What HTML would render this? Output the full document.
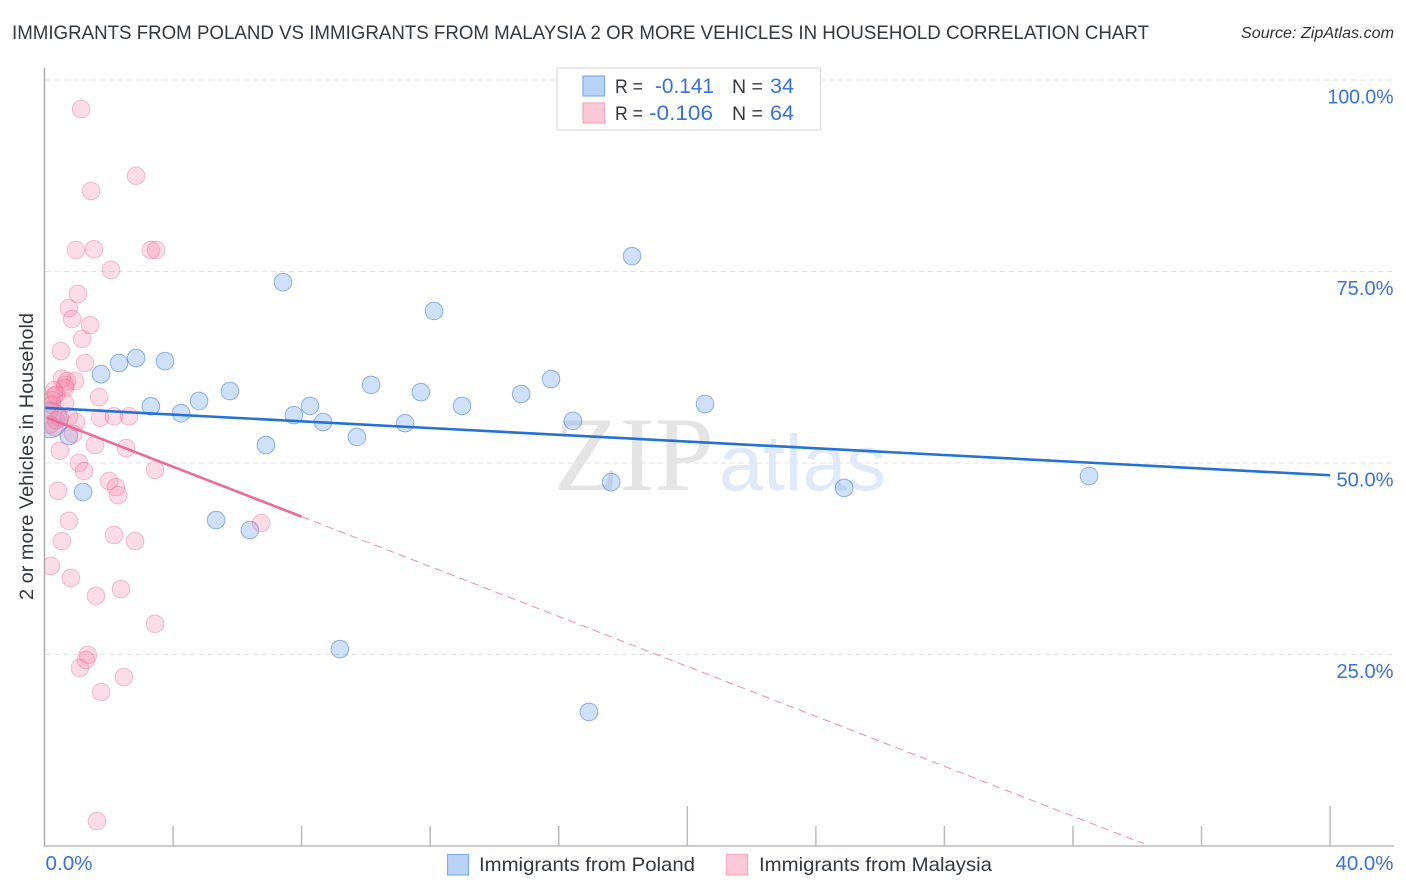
<!DOCTYPE html>
<html lang="en">
<head>
<meta charset="utf-8">
<title>Immigrants from Poland vs Immigrants from Malaysia correlation chart</title>
<style>
html,body{margin:0;padding:0;background:#fff;}
svg{display:block;font-family:"Liberation Sans",sans-serif;}
</style>
</head>
<body>
<svg id="chart" width="1406" height="892" viewBox="0 0 1406 892" xmlns="http://www.w3.org/2000/svg">
  <defs>
    <clipPath id="plot-clip"><rect x="45" y="60" width="1350" height="786"/></clipPath>
  </defs>
  <rect x="0" y="0" width="1406" height="892" fill="#fff"/>
  <text x="12" y="39" font-size="19.5" fill="#33373e" textLength="1137" lengthAdjust="spacingAndGlyphs">IMMIGRANTS FROM POLAND VS IMMIGRANTS FROM MALAYSIA 2 OR MORE VEHICLES IN HOUSEHOLD CORRELATION CHART</text>
  <text x="1241" y="38" font-size="15.5" font-style="italic" fill="#333" textLength="153" lengthAdjust="spacingAndGlyphs">Source: ZipAtlas.com</text>

  <g id="grid"></g>

  <g>
    <text x="554" y="490" font-family="'Liberation Serif',serif" font-size="106" fill="#e4e4e4" textLength="160" lengthAdjust="spacingAndGlyphs">ZIP</text>
    <text x="719" y="490" font-size="79" fill="#dfe9f8" textLength="167" lengthAdjust="spacingAndGlyphs">atlas</text>
  </g>

  <g id="points" clip-path="url(#plot-clip)"></g>
  <g id="trends"></g>

  <g id="axes">
    <line x1="44.5" y1="68" x2="44.5" y2="846.5" stroke="#aaa" stroke-width="1.5"/>
    <line x1="44" y1="846" x2="1394" y2="846" stroke="#bbb" stroke-width="1.5"/>
  </g>
  <g id="ticks"></g>
  <g id="y-labels"></g>
  <g id="x-labels"></g>

  <text transform="translate(33,456.5) rotate(-90)" text-anchor="middle" font-size="19" fill="#33373e" textLength="287" lengthAdjust="spacingAndGlyphs">2 or more Vehicles in Household</text>

  <g>
    <rect x="557" y="68" width="263.5" height="62" fill="#fff" stroke="#ddd" stroke-width="1.2"/>
    <rect x="583" y="76" width="21.5" height="20" fill="#b9d3f7" stroke="#7fade9" stroke-width="1.2"/>
    <rect x="583" y="103" width="21.5" height="20" fill="#fcc9d9" stroke="#f3a9c1" stroke-width="1.2"/>
    <text x="615" y="93" font-size="19.5" fill="#33373e" textLength="28" lengthAdjust="spacingAndGlyphs">R =</text>
    <text x="655" y="93" font-size="21" fill="#3b72d6" textLength="59" lengthAdjust="spacingAndGlyphs">-0.141</text>
    <text x="732" y="93" font-size="19.5" fill="#33373e">N =</text>
    <text x="770" y="93" font-size="21" fill="#3b72d6" textLength="24" lengthAdjust="spacingAndGlyphs">34</text>
    <text x="615" y="120" font-size="19.5" fill="#33373e" textLength="28" lengthAdjust="spacingAndGlyphs">R =</text>
    <text x="649" y="120" font-size="21" fill="#3b72d6" textLength="64" lengthAdjust="spacingAndGlyphs">-0.106</text>
    <text x="732" y="120" font-size="19.5" fill="#33373e">N =</text>
    <text x="770" y="120" font-size="21" fill="#3b72d6" textLength="24" lengthAdjust="spacingAndGlyphs">64</text>
  </g>

  <g>
    <rect x="447.5" y="854.5" width="21" height="20.5" fill="#b9d3f7" stroke="#7fade9" stroke-width="1.2"/>
    <text x="479" y="871" font-size="19.5" fill="#33373e" textLength="216" lengthAdjust="spacingAndGlyphs">Immigrants from Poland</text>
    <rect x="726.5" y="854.5" width="21" height="20.5" fill="#fcc9d9" stroke="#f3a9c1" stroke-width="1.2"/>
    <text x="759" y="871" font-size="19.5" fill="#33373e" textLength="233" lengthAdjust="spacingAndGlyphs">Immigrants from Malaysia</text>
  </g>
</svg>
<script>
const polandX = [0.76,1.20,1.76,2.32,2.85,3.31,3.75,4.25,4.81,5.34,5.77,6.39,6.89,7.42,7.76,8.26,8.67,9.19,9.72,10.16,11.22,11.71,12.12,12.99,14.83,15.76,16.44,16.94,17.63,18.28,20.55,24.88,32.5,0.17];
const polandY = [53.5,46.2,61.6,63.05,63.7,57.4,63.3,56.5,58.1,42.55,59.4,41.25,52.35,73.6,56.25,57.45,55.35,25.7,53.4,60.2,55.2,59.25,69.85,57.45,59.0,60.95,55.5,17.5,47.5,77.0,57.7,46.75,48.3,55.6];
const polandWeight = [1,1,1,1,1,1,1,1,1,1,1,1,1,1,1,1,1,1,1,1,1,1,1,1,1,1,1,1,1,1,1,1,1,4];
const malaysiaX = [1.14,1.45,2.85,0.98,1.54,3.31,3.47,2.07,1.04,0.76,0.86,1.42,1.17,0.51,1.26,0.54,0.95,0.70,0.64,0.30,0.30,0.23,1.70,0.64,0.17,0.23,0.76,0.64,0.98,1.73,2.16,2.63,0.36,0.48,0.17,0.30,0.89,0.48,1.57,2.54,1.07,1.23,3.44,2.01,2.22,2.29,0.42,0.76,6.74,0.54,2.16,2.82,0.20,0.82,2.38,1.60,3.44,1.35,1.29,1.10,2.47,1.76,1.63,0.36];
const malaysiaY = [96.2,85.5,87.5,77.8,77.9,77.8,77.8,75.2,72.05,70.2,68.8,68.0,66.2,64.6,63.05,61.0,60.7,60.7,60.2,59.5,58.75,58.2,58.6,59.8,56.9,57.6,56.1,57.8,55.35,55.9,56.1,56.1,55.6,55.9,55.0,54.7,53.8,51.6,52.35,51.95,50.0,48.95,49.1,47.65,46.85,45.8,46.35,42.45,42.15,39.8,40.6,39.8,36.55,35.0,33.55,32.65,29.0,24.95,24.3,23.25,22.05,20.1,3.25,58.9];
const polandTrendX = [0,40];
const polandTrendY = [57.2,48.4];
const malaysiaTrendX = [0.08,8.0];
const malaysiaTrendY = [55.9,43.0];
const malaysiaTrendDashX = [8.0,34.2];
const malaysiaTrendDashY = [43.0,0.3];
const yTicks = [25,50,75,100];
const yTickLabels = ["25.0%","50.0%","75.0%","100.0%"];
const xTicks = [0,4,8,12,16,20,24,28,32,36,40];
const xMajorTicks = [20,40];
const xEndLabels = [0,40];
const xEndLabelText = ["0.0%","40.0%"];

const SVGNS = "http://www.w3.org/2000/svg";
function xScale(v){ return 44.5 + v * 32.14; }
function yScale(v){ return 846 - v * 7.66; }
function make(tag, attrs){
  const el = document.createElementNS(SVGNS, tag);
  for (const k in attrs) el.setAttribute(k, attrs[k]);
  return el;
}

const grid = document.getElementById('grid');
yTicks.forEach(function(t){
  const l = make('line', {x1:46, x2:1394, y1:yScale(t), y2:yScale(t), stroke:'#e2e2e2', 'stroke-width':1, 'stroke-dasharray':'5 4'});
  
  
  grid.appendChild(l);
});

const ticks = document.getElementById('ticks');
xTicks.forEach(function(t){
  if (t === 0) return;
  const major = xMajorTicks.indexOf(t) >= 0;
  const l = make('line', {x1:xScale(t), x2:xScale(t), y1: major ? 806 : 826, y2:846, stroke:'#bbb', 'stroke-width':1.5});
  
  
  ticks.appendChild(l);
});

const yLabels = document.getElementById('y-labels');
yTicks.forEach(function(t, i){
  const label = make('text', {x:1393.5, y:yScale(t) + 23.5, 'text-anchor':'end', 'font-size':20, fill:'#3b72d6', textLength: t === 100 ? 66 : 57, lengthAdjust:'spacingAndGlyphs'});
  label.textContent = yTickLabels[i];
  
  
  yLabels.appendChild(label);
});

const xLabels = document.getElementById('x-labels');
xEndLabels.forEach(function(t, i){
  const label = make('text', {x: i === 0 ? xScale(t) + 1 : 1393.5, y:870, 'text-anchor': i === 0 ? 'start' : 'end', 'font-size':20, fill:'#3b72d6', textLength: i === 0 ? 47 : 58, lengthAdjust:'spacingAndGlyphs'});
  label.textContent = xEndLabelText[i];
  
  
  xLabels.appendChild(label);
});

const points = document.getElementById('points');
polandX.forEach(function(v, i){
  const c = make('circle', {cx:xScale(v), cy:yScale(polandY[i]), r:8.8 * Math.sqrt(polandWeight[i]), fill:'rgba(110,165,240,0.33)', stroke:'rgba(50,110,210,0.5)', 'stroke-width':1});
  
  
  points.appendChild(c);
});
malaysiaX.forEach(function(v, i){
  const c = make('circle', {cx:xScale(v), cy:yScale(malaysiaY[i]), r:8.8, fill:'rgba(245,130,165,0.28)', stroke:'rgba(235,110,150,0.42)', 'stroke-width':1});
  
  
  points.appendChild(c);
});

const trends = document.getElementById('trends');
const tp = make('line', {x1:xScale(polandTrendX[0]), y1:yScale(polandTrendY[0]), x2:xScale(polandTrendX[1]), y2:yScale(polandTrendY[1]), stroke:'#2272d9', 'stroke-width':2.6});


trends.appendChild(tp);
const tm = make('line', {x1:xScale(malaysiaTrendX[0]), y1:yScale(malaysiaTrendY[0]), x2:xScale(malaysiaTrendX[1]), y2:yScale(malaysiaTrendY[1]), stroke:'#ec6a98', 'stroke-width':2.6});


trends.appendChild(tm);
const td = make('line', {x1:xScale(malaysiaTrendDashX[0]), y1:yScale(malaysiaTrendDashY[0]), x2:xScale(malaysiaTrendDashX[1]), y2:yScale(malaysiaTrendDashY[1]), stroke:'#f08cb0', 'stroke-width':1, 'stroke-dasharray':'8 5'});


trends.appendChild(td);
</script>
</body>
</html>
